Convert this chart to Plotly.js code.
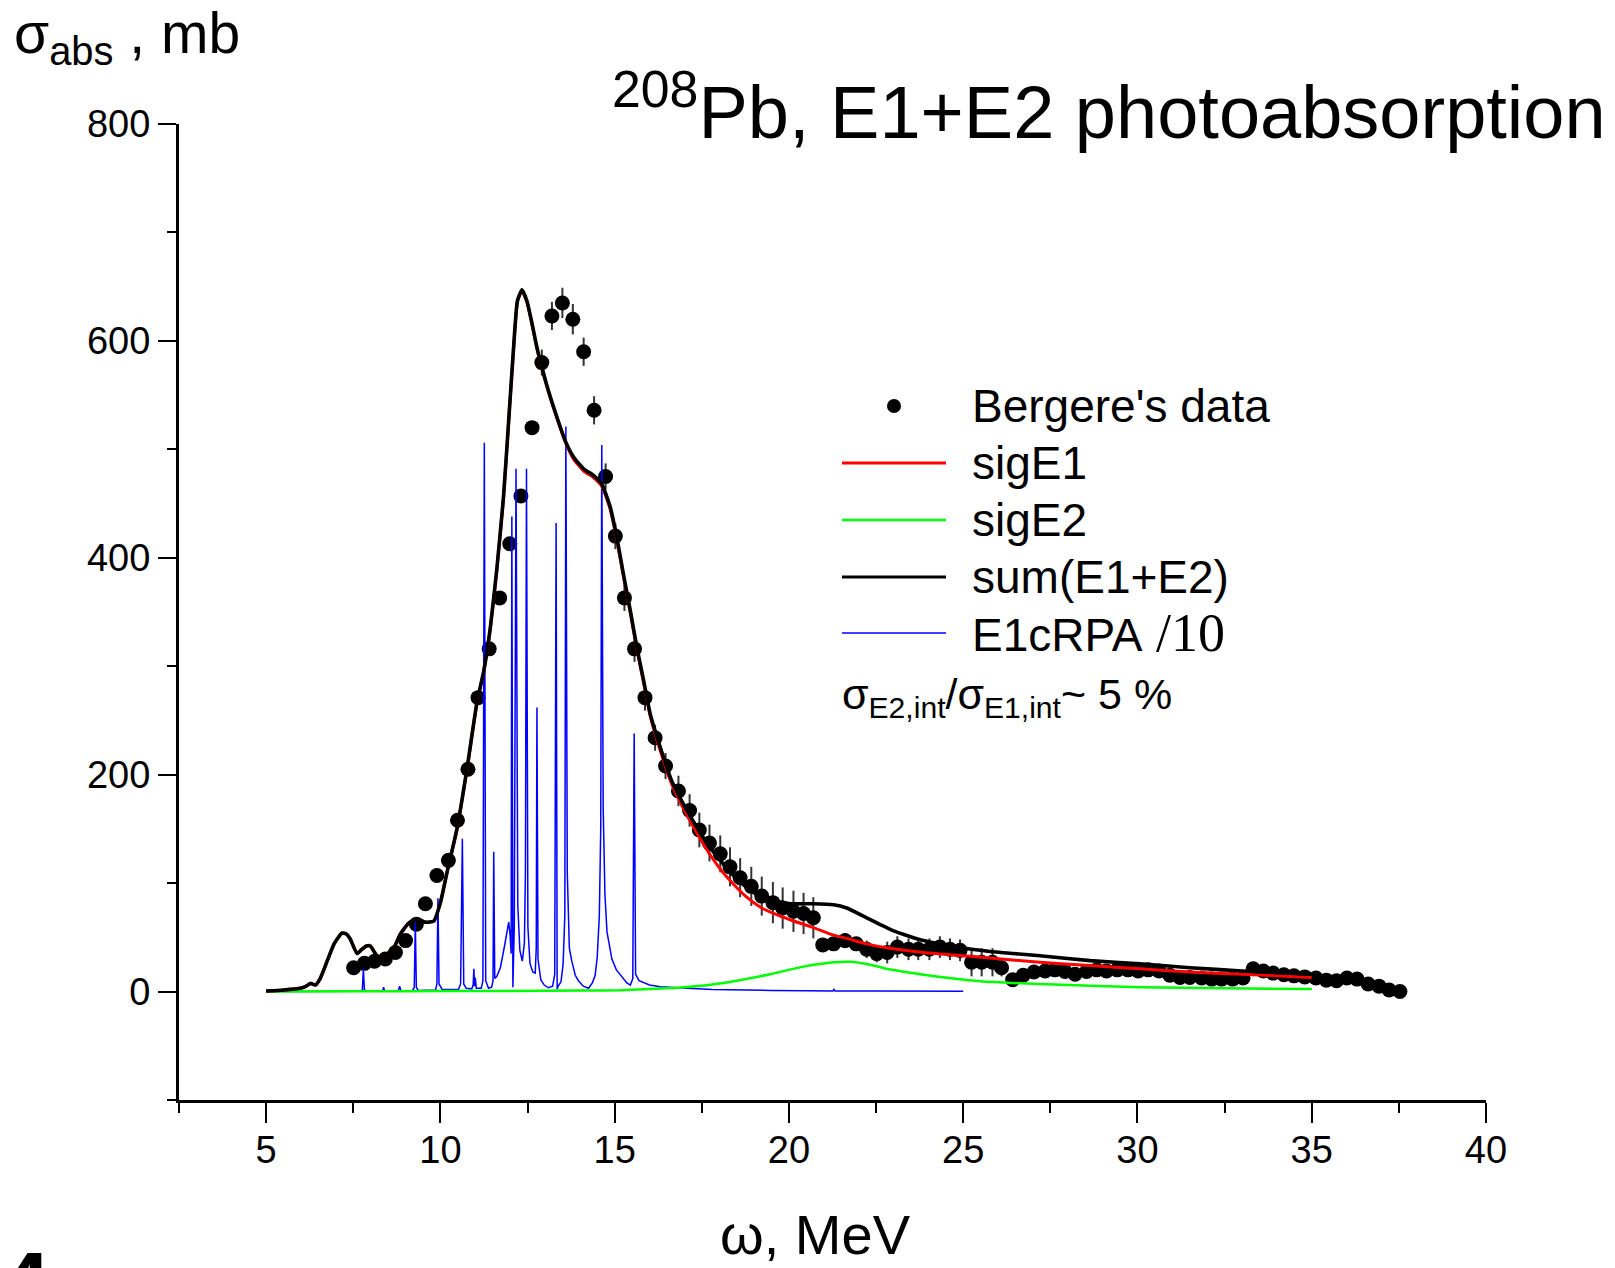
<!DOCTYPE html>
<html>
<head>
<meta charset="utf-8">
<script src="https://cdn.plot.ly/plotly-3.0.1.min.js"></script>
<style>
html,body{margin:0;padding:0;background:#fff;}
#chart{width:1615px;height:1268px;}
</style>
</head>
<body>
<div id="chart"></div>
<script>
// ---------------- data ----------------
const bergX = [7.51,7.82,8.11,8.42,8.71,9.00,9.31,9.57,9.90,10.23,10.49,10.79,11.08,11.40,11.70,11.99,12.31,12.63,12.91,13.20,
  13.50,13.80,14.11,14.41,14.74,15.02,15.28,15.57,15.87,16.16,16.46,16.83,17.15,17.43,17.72,18.03,18.31,18.60,18.92,19.22,
  19.54,19.82,20.13,20.42,20.70,20.97,21.28,21.61,21.93,22.23,22.52,22.82,23.11,23.43,23.71,24.03,24.33,24.62,24.91,25.24,
  25.53,25.84,26.10,26.42,26.72,27.03,27.35,27.63,27.92,28.21,28.54,28.83,29.11,29.42,29.73,30.02,30.31,30.62,30.93,31.22,
  31.50,31.84,32.13,32.41,32.73,33.03,33.32,33.61,33.89,34.20,34.49,34.80,35.12,35.42,35.71,36.01,36.30,36.62,36.93,37.22,37.53];
const bergY = [22,26,28,30,36,47,62,81,107,121,158,205,271,316,363,413,457,520,580,623,
  635,620,590,536,475,420,363,316,271,234,208,185,167,149,137,127,115,105,97,88,
  82,77,74,72,68,43,44,47,44,39,35,36,41,39,39,39,41,39,38,27,
  27,27,22,11,15,18,19,20,18.5,16,18.5,20,19,20,20,19,20,19,15,13,
  13,12.5,11.5,11.5,11.5,12.5,21,19,17,15.5,14.5,13.5,12.5,10.5,10,12.5,11.5,7,5,1.5,0];
const bergErr = [0,0,0,0,0,0,0,0,0,0,0,0,0,0,0,0,0,0,12,13,
  14,14,13,13,12,12,12,12,12,12,12,14,15,16,17,17,18,18,18,18,
  19,19,19,19,19,5,5,7,6,8,8,10,10,10,10,10,10,10,10,13,
  13,13,8,4,4,4,4,4,4,4,4,4,4,4,4,4,4,4,4,4,
  4,4,4,4,4,4,4,4,4,4,4,4,4,4,4,4,4,4,4,4,4];

const sumX = [5.0,5.5,5.98,6.15,6.27,6.41,6.55,6.75,6.95,7.18,7.30,7.42,7.61,7.75,7.88,7.99,8.18,8.37,8.52,8.66,
  8.85,9.09,9.33,9.56,9.81,10.0,10.19,10.48,10.76,11.05,11.24,11.43,11.62,11.81,11.96,12.10,12.21,12.34,12.48,12.63,
  12.77,12.91,13.10,13.34,13.58,13.82,14.11,14.39,14.63,14.87,15.06,15.25,15.45,15.64,15.83,16.02,16.31,16.64,16.97,17.31,
  17.64,18.03,18.41,18.79,19.17,19.56,20.05,20.70,21.28,21.66,22.23,23.0,23.86,24.81,25.77,27.2,28.64,30.07,31.5,33.0,35.0];
const sumY = [0.5,1.5,3,5,7.5,6,12,28,44,54,53,48,35,39,42,42,33,31,36,40,
  53,63,67,64,65,82,110,151,205,267,295,335,390,456,527,594,637,647,637,616,
  594,576,554,530,508,493,482,476,468,447,419,385,351,317,287,256,225,194,173,154,
  137,121,107,96,88,84,81,81,80,77,68,56,47,41,37,33,28.5,25.5,22,19,16];

const e1X = sumX;
const e1Y = [0.5,1.5,3,5,7.5,6,12,28,44,54,53,48,35,39,42,42,33,31,36,40,
  53,63,67,64,65,82,110,150,204,266,294,334,389,455,526,593,636,646,636,615,
  593,575,553,529,507,491,480,474,466,445,417,383,349,315,285,254,222,191,169,149,
  131,113,99,87,78,72,66,59,52,49,44,39.5,36,33.5,31,27,24,21,18,16,13];

const e2X = [5,8,10,12,14,15.15,16.2,17.07,17.8,18.5,19.46,20.42,21.28,21.75,22.3,22.8,23.76,24.72,25.48,27.2,30.07,32.5,35.0];
const e2Y = [0,0.2,0.4,0.6,0.9,1.2,2.5,4.2,6.5,10,16,23,27,27.5,25,21,16,12,9.5,6.9,4,3,2.3];

const rpaX = [5.00,7.70,7.76,7.79,7.82,7.90,8.34,8.37,8.40,8.79,8.83,8.87,9.20,9.25,9.28,9.31,9.36,9.86,9.90,9.93,
  9.96,10.00,10.05,10.52,10.58,10.63,10.67,10.74,10.90,10.94,10.96,10.98,11.00,11.03,11.17,11.22,11.26,11.30,11.38,11.47,
  11.51,11.53,11.56,11.62,11.72,11.84,11.92,11.96,12.00,12.03,12.05,12.08,12.12,12.17,12.22,12.28,12.35,12.41,12.44,12.47,
  12.51,12.57,12.65,12.72,12.75,12.77,12.80,12.88,12.98,13.10,13.22,13.28,13.32,13.35,13.38,13.46,13.52,13.57,13.60,13.64,
  13.70,13.77,13.87,13.96,14.10,14.25,14.36,14.44,14.50,14.56,14.60,14.63,14.67,14.72,14.78,14.92,15.05,15.21,15.35,15.45,
  15.52,15.56,15.60,15.70,15.83,16.00,16.31,16.70,17.07,17.80,18.41,19.50,20.50,21.26,21.29,21.32,22.50,23.50,25.00];
const rpaY = [0,0.3,1.5,21,1.5,0.3,0.4,4,0.4,0.5,5,0.5,0.8,4,64,4,1,1.5,7,86,
  7,4,2,2,7,141,7,3,2.5,6,21,5,13,3,3,10,506,10,3,4,
  10,129,12,14,22,42,58,64,52,35,438,4,60,482,80,38,28,45,110,482,
  60,26,18,17,40,262,30,11,6,3.5,5,16,432,2,5,9,25,70,521,110,
  40,28,15,10,5,3,8,15,32,70,150,504,170,90,55,30,20,14,8,6,
  12,238,16,10,8,6,4.5,3.5,3,2,1.5,1,0.8,0.6,2,0.6,0.4,0.3,0.3];

const xTickStep = 5, xMinorStep = 2.5, yTickStep = 200, yMinorStep = 100;
const legendNames = ["Bergere's data", "sigE1", "sigE2", "sum(E1+E2)",
  "E1cRPA<span style=\"font-family:'Liberation Serif','Times New Roman',serif;font-size:54px\"> /10</span>"];

// ---------------- layout helpers (pixel -> paper) ----------------
const FIG_W = 1615, FIG_H = 1268;
const M = {l: 179, r: 129, t: 124, b: 168};
const PW = FIG_W - M.l - M.r, PH = FIG_H - M.t - M.b;
const px = v => (v - M.l) / PW;
const py = v => (M.t + PH - v) / PH;

const FONT = "'Liberation Sans', Arial, Helvetica, sans-serif";

const traces = [
  {x: bergX, y: bergY, type: 'scatter', mode: 'markers', name: "Bergere's data",
   marker: {color: '#000', size: 15},
   error_y: {type: 'data', array: bergErr, visible: true, color: '#333', thickness: 2, width: 0}},
  {x: rpaX, y: rpaY, type: 'scatter', mode: 'lines', name: 'E1cRPA/10',
   line: {color: '#0000ff', width: 1.5}},
  {x: e2X, y: e2Y, type: 'scatter', mode: 'lines', name: 'sigE2',
   line: {color: '#00ff00', width: 2.5, shape: 'spline', smoothing: 0.6}},
  {x: e1X, y: e1Y, type: 'scatter', mode: 'lines', name: 'sigE1',
   line: {color: '#ff0000', width: 3, shape: 'spline', smoothing: 0.5}},
  {x: sumX, y: sumY, type: 'scatter', mode: 'lines', name: 'sum(E1+E2)',
   line: {color: '#000000', width: 3.6, shape: 'spline', smoothing: 0.5}}
];

const rowY = [406, 463, 520, 577, 633];
const legColors = [null, '#ff0000', '#00ff00', '#000000', '#0000ff'];
const legWidths = [0, 3, 2.5, 3, 1.5];

const shapes = [];
const annotations = [];
// legend
shapes.push({type: 'circle', xref: 'paper', yref: 'paper', x0: px(887), x1: px(901), y0: py(rowY[0] + 7), y1: py(rowY[0] - 7),
  fillcolor: '#000', line: {color: '#000', width: 0}});
for (let i = 1; i < 5; i++) {
  shapes.push({type: 'line', xref: 'paper', yref: 'paper', x0: px(842), x1: px(946), y0: py(rowY[i]), y1: py(rowY[i]),
    line: {color: legColors[i], width: legWidths[i]}});
}
for (let i = 0; i < 5; i++) {
  annotations.push({text: legendNames[i], xref: 'paper', yref: 'paper', x: px(970), y: py(rowY[i]),
    xanchor: 'left', yanchor: 'middle', showarrow: false, font: {family: FONT, size: 46, color: '#000'}});
}
annotations.push({text: 'σ<sub>E2,int</sub>/σ<sub>E1,int</sub>~ 5 %', xref: 'paper', yref: 'paper', x: px(840), y: py(697),
  xanchor: 'left', yanchor: 'middle', showarrow: false, font: {family: FONT, size: 43, color: '#000'}});
// title
annotations.push({text: '<sup>208</sup>Pb, E1+E2 photoabsorption', xref: 'paper', yref: 'paper', x: px(1608), y: py(107),
  xanchor: 'right', yanchor: 'middle', showarrow: false, font: {family: FONT, size: 74, color: '#000'}});
// axis titles
annotations.push({text: 'σ<sub>abs</sub> , mb', xref: 'paper', yref: 'paper', x: px(12), y: py(37),
  xanchor: 'left', yanchor: 'middle', showarrow: false, font: {family: FONT, size: 57, color: '#000'}});
annotations.push({text: 'ω, MeV', xref: 'paper', yref: 'paper', x: px(815), y: py(1234),
  xanchor: 'center', yanchor: 'middle', showarrow: false, font: {family: FONT, size: 56, color: '#000'}});
// clipped figure number at the bottom-left
annotations.push({text: '<b>4</b>', xref: 'paper', yref: 'paper', x: px(-2), y: py(1233),
  xanchor: 'left', yanchor: 'top', showarrow: false, font: {family: FONT, size: 90, color: '#000'}});

const layout = {
  width: FIG_W, height: FIG_H,
  margin: M,
  paper_bgcolor: '#fff', plot_bgcolor: '#fff',
  showlegend: false,
  font: {family: FONT, color: '#000'},
  xaxis: {range: [2.5, 40], tick0: 0, dtick: xTickStep, ticks: 'outside', ticklen: 20, tickwidth: 2, tickcolor: '#000',
    showline: true, linewidth: 3, linecolor: '#000', showgrid: false, zeroline: false,
    ticklabelstandoff: -6,
    tickfont: {family: FONT, size: 38, color: '#000'},
    minor: {dtick: xMinorStep, tick0: 0, ticks: 'outside', ticklen: 10, tickwidth: 2, tickcolor: '#000', showgrid: false}},
  yaxis: {range: [-100, 800], tick0: 0, dtick: yTickStep, ticks: 'outside', ticklen: 18, tickwidth: 2, tickcolor: '#000',
    showline: true, linewidth: 3, linecolor: '#000', showgrid: false, zeroline: false,
    tickfont: {family: FONT, size: 38, color: '#000'},
    minor: {dtick: yMinorStep, tick0: 0, ticks: 'outside', ticklen: 9, tickwidth: 2, tickcolor: '#000', showgrid: false}},
  shapes: shapes,
  annotations: annotations
};

Plotly.newPlot('chart', traces, layout, {displayModeBar: false, responsive: false});
</script>
</body>
</html>
